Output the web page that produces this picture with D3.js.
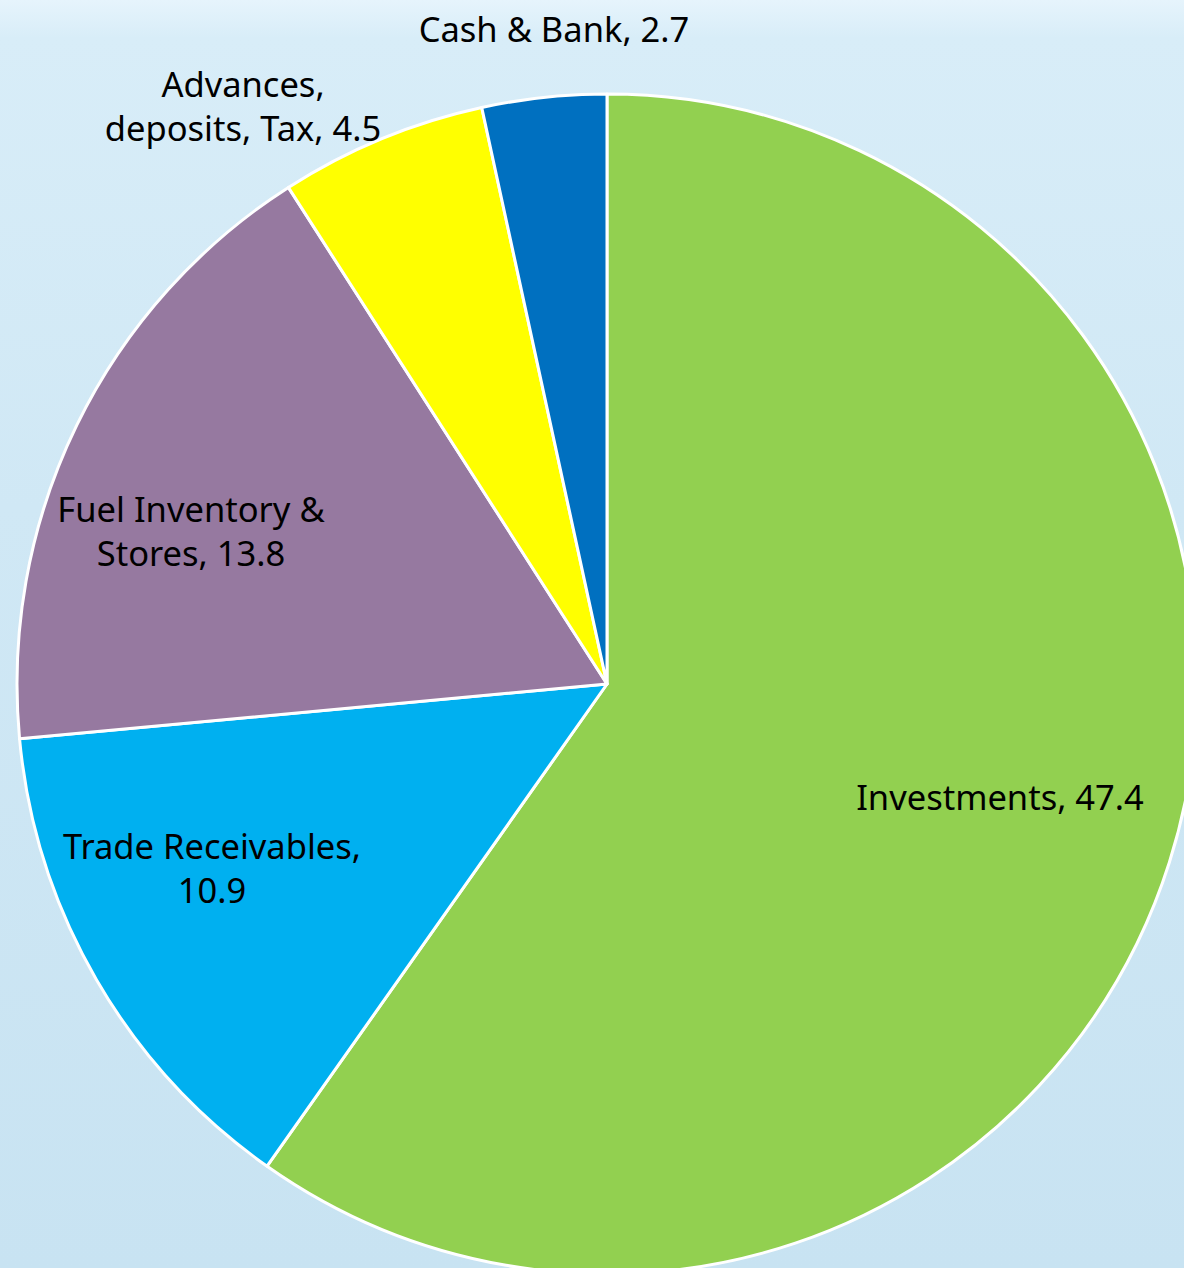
<!DOCTYPE html>
<html>
<head>
<meta charset="utf-8">
<script src="https://cdn.jsdelivr.net/npm/d3@7"></script>
<style>
  html, body { margin: 0; padding: 0; }
  body { width: 1184px; height: 1268px; overflow: hidden; }
  .label { font-family: "Noto Sans", sans-serif; font-size: 34.5px; fill: #000; }
</style>
</head>
<body>
<div class="chart"></div>
<script>
// slices, clockwise from 12 o'clock
var categories = ["Investments", "Trade Receivables", "Fuel Inventory & Stores", "Advances, deposits, Tax", "Cash & Bank"];
var values = [47.4, 10.9, 13.8, 4.5, 2.7];
// label text as it is wrapped in the picture
var labelLines = [
  ["Investments, 47.4"],
  ["Trade Receivables,", "10.9"],
  ["Fuel Inventory &", "Stores, 13.8"],
  ["Advances,", "deposits, Tax, 4.5"],
  ["Cash & Bank, 2.7"]
];

var colors = ["#92D050", "#00B0F0", "#9679A0", "#FFFF00", "#0070C0"];

var svgWidth = 1184;
var svgHeight = 1268;
var cx = 607, cy = 684, radius = 590;
var lineGap = 44;

// label anchors (center x, first baseline) relative to pie center
var labelOffsets = [
  [393, 126],
  [-395, 175],
  [-416, -162],
  [-364, -587],
  [-53, -642]
];

var svg = d3.select(".chart")
  .append("svg")
  .attr("width", svgWidth)
  .attr("height", svgHeight);

// background
var defs = svg.append("defs");
var grad = defs.append("linearGradient")
  .attr("id", "bg")
  .attr("x1", 0).attr("y1", 0).attr("x2", 0).attr("y2", 1);
grad.append("stop").attr("offset", "0%").attr("stop-color", "#E6F4FC");
grad.append("stop").attr("offset", "3%").attr("stop-color", "#D8EDF8");
grad.append("stop").attr("offset", "40%").attr("stop-color", "#D0E8F5");
grad.append("stop").attr("offset", "100%").attr("stop-color", "#C8E3F2");

svg.append("rect")
  .attr("width", svgWidth)
  .attr("height", svgHeight)
  .attr("fill", "url(#bg)");

var pieData = d3.pie()
  .sort(null)
  .value(function (d) { return d; })(values);

var arc = d3.arc()
  .innerRadius(0)
  .outerRadius(radius);

var chart = svg.append("g")
  .attr("transform", "translate(" + cx + "," + cy + ")");

chart.selectAll("path")
  .data(pieData)
  .enter().append("path")
  .attr("d", arc)
  .attr("fill", function (d, i) { return colors[i]; })
  .attr("stroke", "#FFFFFF")
  .attr("stroke-width", 3)
  .attr("stroke-linejoin", "round");

var labels = chart.selectAll("text.label")
  .data(pieData)
  .enter().append("text")
  .attr("class", "label")
  .attr("text-anchor", "middle")
  .attr("x", function (d, i) { return labelOffsets[i][0]; })
  .attr("y", function (d, i) { return labelOffsets[i][1]; });

labels.each(function (d, i) {
  var t = d3.select(this);
  labelLines[i].forEach(function (line, j) {
    t.append("tspan")
      .attr("x", labelOffsets[i][0])
      .attr("dy", j === 0 ? 0 : lineGap)
      .text(line);
  });
});
</script>
</body>
</html>
